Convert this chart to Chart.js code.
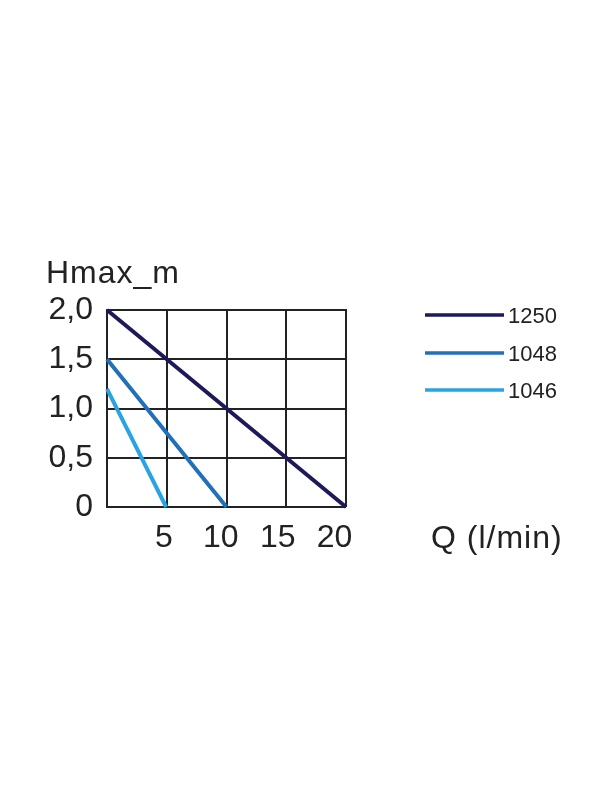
<!DOCTYPE html>
<html>
<head>
<meta charset="utf-8">
<script src="https://cdn.jsdelivr.net/npm/chart.js@4.4.1/dist/chart.umd.min.js"></script>
<style>
  html, body { margin: 0; padding: 0; background: #fff; }
  #wrap { width: 600px; height: 800px; }
</style>
</head>
<body>
<div id="wrap"><canvas id="chart" width="600" height="800"></canvas></div>
<script>
// pump curves, Q (l/min) vs Hmax (m)
const seriesNames = ["1250", "1048", "1046"];
const seriesColors = ["#1c1a58", "#2270b6", "#29a3e2"];
const q1250 = [0, 21];
const h1250 = [2.0, 0];
const q1048 = [0, 10.5];
const h1048 = [1.5, 0];
const q1046 = [0, 5.2];
const h1046 = [1.2, 0];

const xTickValues = [5, 10, 15, 20];
const yTickValues = [0, 0.5, 1.0, 1.5, 2.0];
const yTickText = ["0", "0,5", "1,0", "1,5", "2,0"];

const yTitle = "Hmax_m";
const xTitle = "Q (l/min)";

const FONT = "'Liberation Sans', Arial, sans-serif";
const INK = "#222222";

function pts(xs, ys) {
    return xs.map((x, i) => ({ x: x, y: ys[i] }));
}

const curves = [pts(q1250, h1250), pts(q1048, h1048), pts(q1046, h1046)];

// titles + legend drawn on the canvas
const extras = {
    id: "extras",
    afterDraw(chart) {
        const ctx = chart.ctx;
        ctx.save();
        ctx.fillStyle = INK;
        ctx.textBaseline = "alphabetic";
        ctx.textAlign = "left";
        ctx.font = "32px " + FONT;
        ctx.letterSpacing = "1px";
        ctx.fillText(yTitle, 46, 283);
        ctx.fillText(xTitle, 431, 548);

        ctx.font = "22px " + FONT;
        ctx.letterSpacing = "0px";
        ctx.textBaseline = "middle";
        const rows = [315, 353, 390];
        chart.data.datasets.forEach((ds, i) => {
            ctx.strokeStyle = ds.borderColor;
            ctx.lineWidth = 3.5;
            ctx.beginPath();
            ctx.moveTo(425, rows[i]);
            ctx.lineTo(504, rows[i]);
            ctx.stroke();
            ctx.fillStyle = INK;
            ctx.fillText(ds.label, 508, rows[i] + 2);
        });
        ctx.restore();
    }
};

new Chart(document.getElementById("chart"), {
    type: "line",
    data: {
        datasets: seriesNames.map((name, i) => ({
            label: name,
            data: curves[i],
            borderColor: seriesColors[i],
            borderWidth: 4,
            pointRadius: 0,
            tension: 0,
            fill: false,
            clip: false,
            xAxisID: "x",
            yAxisID: "y"
        }))
    },
    options: {
        responsive: false,
        animation: false,
        layout: { padding: { top: 310, right: 254, bottom: 248, left: 0 } },
        plugins: { legend: { display: false }, tooltip: { enabled: false } },
        scales: {
            x: {
                type: "linear",
                position: "top",
                min: 0,
                max: 21,
                ticks: { display: false, stepSize: 5.25 },
                grid: { color: INK, lineWidth: 2, drawTicks: false },
                border: { color: INK, width: 2 },
                afterFit(s) { s.height = 0; }
            },
            xLabels: {
                type: "linear",
                position: "bottom",
                min: 0,
                max: 21,
                afterBuildTicks(s) { s.ticks = xTickValues.map(v => ({ value: v })); },
                ticks: { color: INK, font: { size: 32, family: FONT }, padding: 12, maxRotation: 0 },
                grid: { display: false, drawTicks: false },
                border: { display: false },
                afterFit(s) { s.height = 45; }
            },
            y: {
                type: "linear",
                min: 0,
                max: 2,
                afterBuildTicks(s) { s.ticks = yTickValues.map(v => ({ value: v })); },
                ticks: {
                    color: INK,
                    font: { size: 32, family: FONT },
                    padding: 14,
                    callback: (v) => yTickText[yTickValues.indexOf(v)]
                },
                grid: { color: INK, lineWidth: 2, drawTicks: false },
                border: { color: INK, width: 2 },
                afterFit(s) { s.width = 107; }
            }
        }
    },
    plugins: [extras]
});
</script>
</body>
</html>
